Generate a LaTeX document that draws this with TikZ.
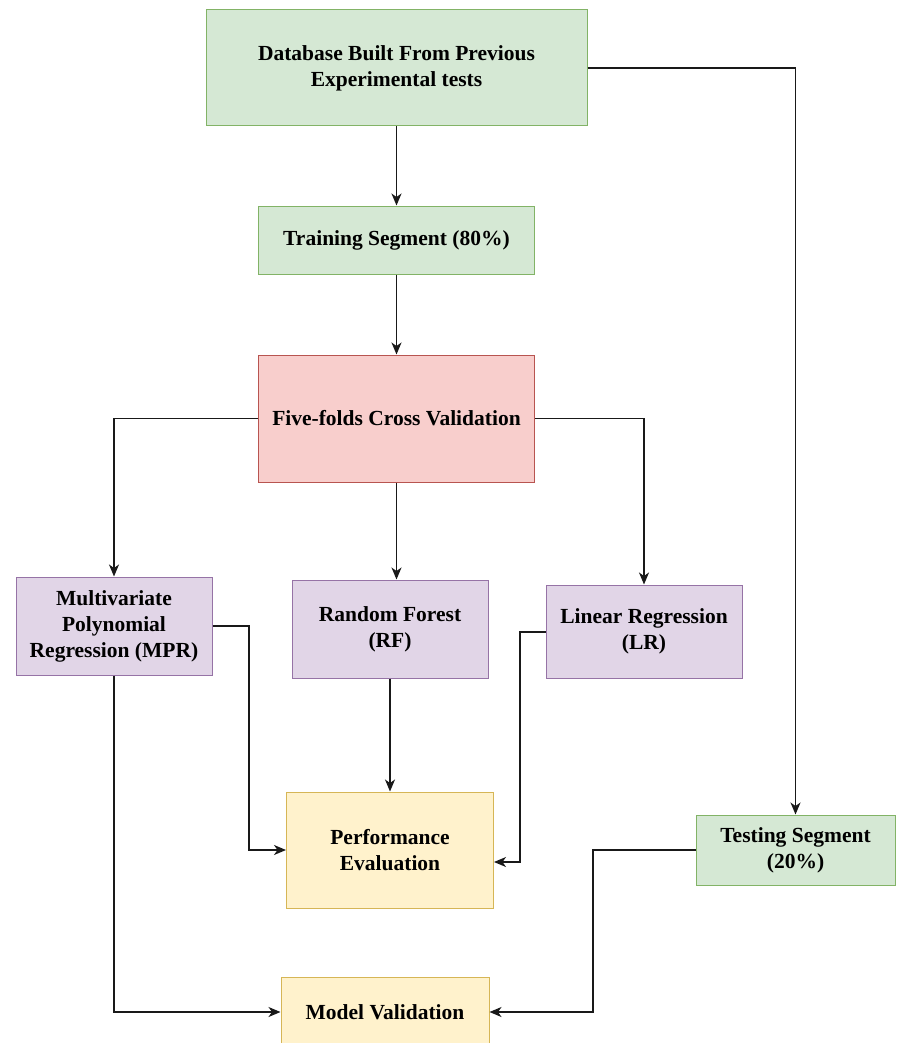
\documentclass[tikz,border=0pt]{standalone}
\usepackage{fontspec}
\setmainfont{Liberation Serif}
\usetikzlibrary{arrows.meta}
\definecolor{gfill}{HTML}{D5E8D4}\definecolor{gdraw}{HTML}{82B366}
\definecolor{rfill}{HTML}{F8CECC}\definecolor{rdraw}{HTML}{B85450}
\definecolor{pfill}{HTML}{E1D5E7}\definecolor{pdraw}{HTML}{9673A6}
\definecolor{yfill}{HTML}{FFF2CC}\definecolor{ydraw}{HTML}{D6B656}
\begin{document}
\begin{tikzpicture}[x=1pt,y=-1pt,
  box/.style={draw, line width=1pt, align=center, inner sep=0pt,
    font=\fontsize{21.5}{26}\selectfont\bfseries},
  gbox/.style={box, fill=gfill, draw=gdraw},
  rbox/.style={box, fill=rfill, draw=rdraw},
  pbox/.style={box, fill=pfill, draw=pdraw},
  ybox/.style={box, fill=yfill, draw=ydraw},
  conn/.style={line width=1.3pt, draw=black!90, -{Stealth[length=12pt,width=10pt,inset=3.5pt]}}]
\useasboundingbox (0,0) rectangle (896,1043);
\node[gbox, minimum width=381pt, minimum height=116pt] (db) at (396.5,68) {Database Built From Previous\\Experimental tests};
\node[gbox, minimum width=276pt, minimum height=68pt] (train) at (396.5,240) {Training Segment (80\%)};
\node[rbox, minimum width=276pt, minimum height=127pt] (cv) at (396.5,418.5) {Five-folds Cross Validation};
\node[pbox, minimum width=196pt, minimum height=98pt] (mpr) at (114,626) {Multivariate\\Polynomial\\Regression (MPR)};
\node[pbox, minimum width=196pt, minimum height=98pt] (rf) at (390,629) {Random Forest\\(RF)};
\node[pbox, minimum width=196pt, minimum height=93pt] (lr) at (644,631.5) {Linear Regression\\(LR)};
\node[ybox, minimum width=207pt, minimum height=116pt] (pe) at (390,850) {Performance\\Evaluation};
\node[gbox, minimum width=199pt, minimum height=70pt] (test) at (795.5,850) {Testing Segment\\(20\%)};
\node[ybox, minimum width=208pt, minimum height=70pt] (mv) at (385,1012) {Model Validation};

\draw[conn] (db.east) -| (test.north);
\draw[conn] (db.south) -- (train.north);
\draw[conn] (train.south) -- (cv.north);
\draw[conn] (cv.west) -| (mpr.north);
\draw[conn] (cv.east) -| (lr.north);
\draw[conn] (cv.south) -- (cv.south |- rf.north);
\draw[conn] (rf.south) -- (pe.north);
\coordinate (c1) at (249,626);
\draw[conn] (mpr.east |- c1) -- (c1) |- (pe.west);
\coordinate (c2) at (520,632);
\coordinate (c3) at (520,862);
\draw[conn] (lr.west |- c2) -- (c2) -- (c3) -- (pe.east |- c3);
\draw[conn] (mpr.south) |- (mv.west);
\coordinate (c4) at (593,850);
\draw[conn] (test.west) -- (c4) |- (mv.east);
\end{tikzpicture}
\end{document}
